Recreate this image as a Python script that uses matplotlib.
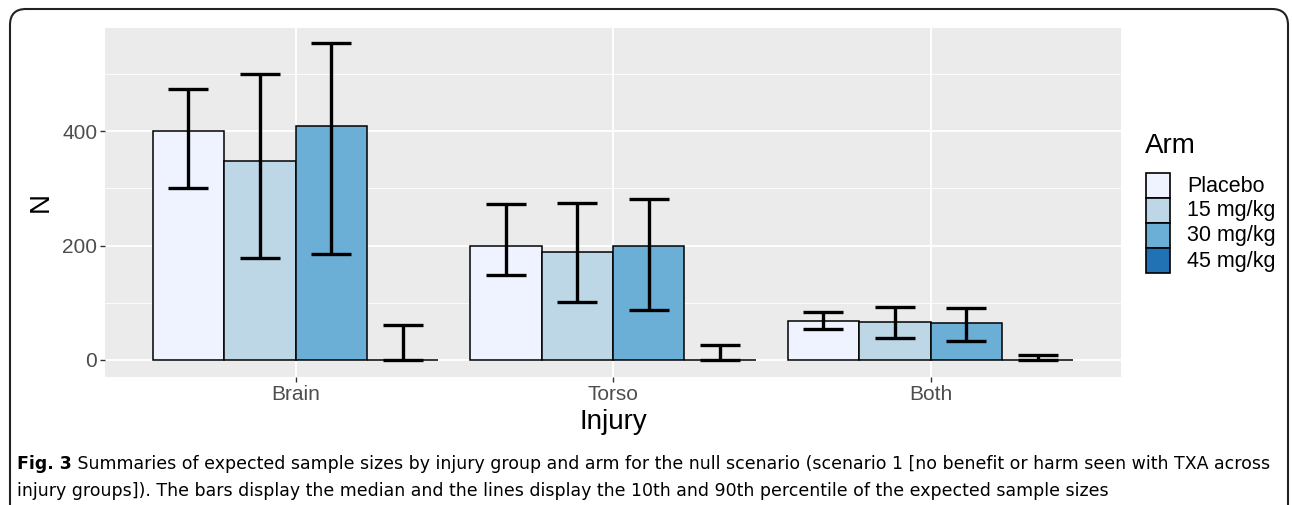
import matplotlib
matplotlib.use("Agg")
import matplotlib.pyplot as plt
import numpy as np
from matplotlib.patches import FancyBboxPatch, Rectangle
from matplotlib.transforms import IdentityTransform

injuries = ["Brain", "Torso", "Both"]
arms = ["Placebo", "15 mg/kg", "30 mg/kg", "45 mg/kg"]
colors = ["#EFF3FF", "#BDD7E7", "#6BAED6", "#2171B5"]

median = {
    "Placebo":  [400, 199, 68],
    "15 mg/kg": [348, 189, 66],
    "30 mg/kg": [409, 199, 65],
    "45 mg/kg": [0, 0, 0],
}
p10 = {
    "Placebo":  [300, 148, 54],
    "15 mg/kg": [178, 101, 38],
    "30 mg/kg": [185, 87, 33],
    "45 mg/kg": [0, 0, 0],
}
p90 = {
    "Placebo":  [474, 273, 84],
    "15 mg/kg": [500, 274, 92],
    "30 mg/kg": [554, 281, 91],
    "45 mg/kg": [61, 26, 8],
}
yticks = [0, 200, 400]

W, H = 1292, 505
fig = plt.figure(figsize=(W / 100, H / 100), dpi=100)
FONT = "Liberation Sans"
plt.rcParams["font.family"] = [FONT, "DejaVu Sans"]

ax = fig.add_axes([105 / W, 1 - 377 / H, (1121 - 105) / W, (377 - 28) / H])
ax.set_facecolor("#EBEBEB")
for s in ax.spines.values():
    s.set_visible(False)

x = np.arange(1, len(injuries) + 1)
bw = 0.225
for i, arm in enumerate(arms):
    xs = x + (i - 1.5) * bw
    ax.bar(xs, median[arm], width=bw, color=colors[i], edgecolor="black",
           linewidth=1.1, zorder=3)
    med = np.array(median[arm])
    lo = med - np.array(p10[arm])
    hi = np.array(p90[arm]) - med
    ax.errorbar(xs, med, yerr=[lo, hi], fmt="none", ecolor="black",
                elinewidth=2.4, capsize=14.4, capthick=2.4, zorder=4)

ax.set_xlim(0.4, 3.6)
ax.set_ylim(-29.7, 580)
ax.set_yticks(yticks)
ax.set_yticklabels([str(v) for v in yticks])
ax.set_yticks([100, 300, 500], minor=True)
ax.set_xticks(x)
ax.set_xticklabels(injuries)
ax.grid(True, which="major", color="white", linewidth=1.3, zorder=0)
ax.grid(True, which="minor", axis="y", color="white", linewidth=0.6, zorder=0)
ax.set_axisbelow(True)
ax.tick_params(axis="both", which="major", colors="#333333", labelcolor="#4D4D4D",
               labelsize=15, length=3.5, width=1.0, pad=2)
ax.tick_params(axis="both", which="minor", length=0)
ax.set_xlabel("Injury", fontsize=20, labelpad=4)
ax.set_ylabel("N", fontsize=20, labelpad=6)

# legend (drawn manually in pixel coordinates)
ident = IdentityTransform()
fig.text(1145 / W, 1 - 146 / H, "Arm", fontsize=20, va="center", ha="left")
key_top, key_h, key_x, key_w = 173, 25, 1146, 24
for i, (arm, c) in enumerate(zip(arms, colors)):
    top = key_top + i * key_h
    fig.patches.append(Rectangle((key_x, H - top - key_h), key_w, key_h,
                                 transform=ident, facecolor=c, edgecolor="black",
                                 linewidth=1.2))
    fig.text(1187 / W, 1 - (top + key_h / 2 + 0.5) / H, arm, fontsize=15.5,
             va="center", ha="left")

# border
border = FancyBboxPatch((10, -60), 1278, 556,
                        boxstyle="round,pad=0,rounding_size=16",
                        transform=ident, fill=False,
                        edgecolor="#222222", linewidth=1.5)
fig.patches.append(border)

# caption
cap_font = "Liberation Sans Narrow"
line1_rest = " Summaries of expected sample sizes by injury group and arm for the null scenario (scenario 1 [no benefit or harm seen with TXA across"
line2 = "injury groups]). The bars display the median and the lines display the 10th and 90th percentile of the expected sample sizes"
fs = 15.5
fig.canvas.draw()
r = fig.canvas.get_renderer()
t0 = fig.text(17 / W, 1 - 469 / H, "Fig. 3", fontsize=fs, fontweight="bold",
              family=[cap_font, "DejaVu Sans"], va="baseline")
t1 = fig.text(0, 1 - 469 / H, line1_rest, fontsize=fs, family=[cap_font, "DejaVu Sans"],
              va="baseline")
b0 = t0.get_window_extent(r)
b1 = t1.get_window_extent(r)
total = b0.width + b1.width
scale = (1262 - 17) / total
fs2 = fs * scale
t0.set_fontsize(fs2)
t1.set_fontsize(fs2)
b0 = t0.get_window_extent(r)
t1.set_x((17 + b0.width) / W)
fig.text(17 / W, 1 - 496 / H, line2, fontsize=fs2, family=[cap_font, "DejaVu Sans"],
         va="baseline")

fig.savefig("out.png", dpi=100)
